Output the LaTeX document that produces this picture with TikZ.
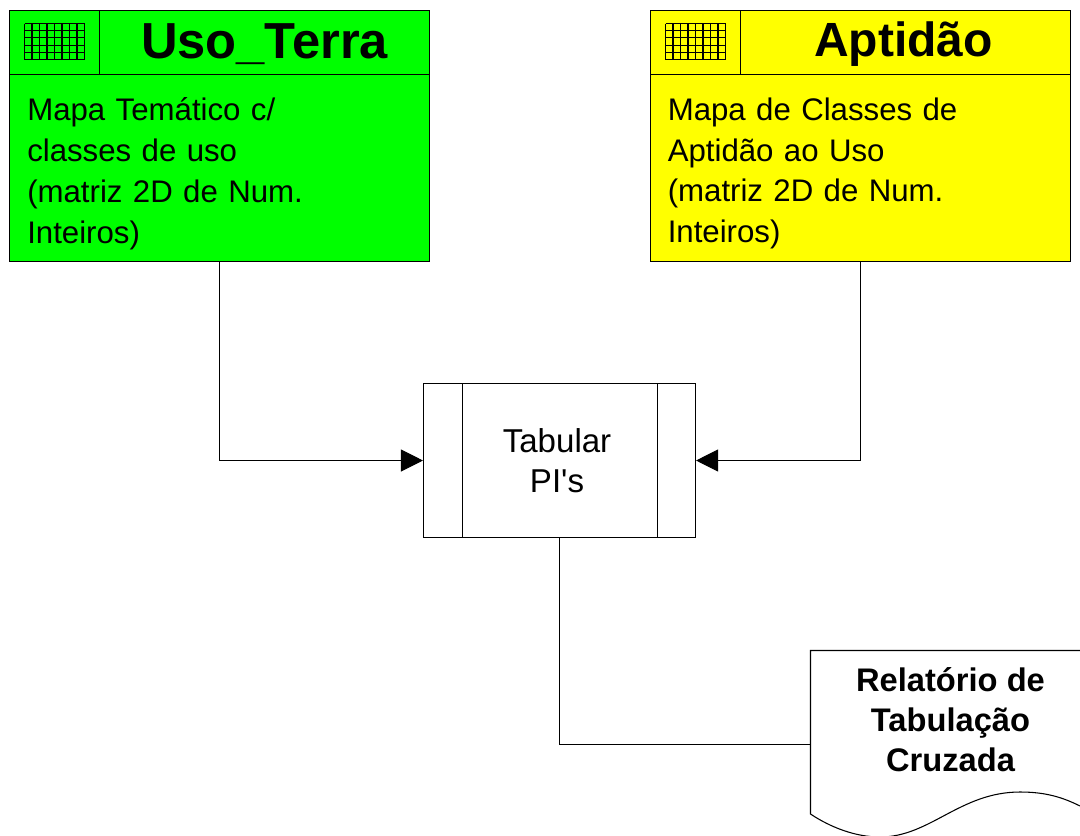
\documentclass[tikz,border=0pt]{standalone}
\usepackage{fontspec}
\setmainfont{Liberation Sans}
\newfontfamily\rawsans{Liberation Sans}
\usetikzlibrary{arrows.meta}
\definecolor{pureyellow}{RGB}{255,255,0}
\definecolor{puregreen}{RGB}{0,255,0}
\tikzset{
  px/.style={x=0.75pt,y=-0.75pt},
  ln/.style={draw=black,line width=0.8pt},
  conn/.style={line width=0.8pt,-{Triangle[length=16.5pt,width=16.5pt,black]}},
  plain/.style={line width=0.8pt},
  title/.style={font=\fontsize{#1}{#1}\selectfont\bfseries,inner sep=0pt},
  body/.style={font=\fontsize{23.4}{30.6}\selectfont,align=left,anchor=north west,inner sep=0pt,text width=330pt},
  ptext/.style={font=\fontsize{24.8}{30}\selectfont\rawsans,align=center,inner sep=0pt},
  dtext/.style={font=\fontsize{24.5}{30}\selectfont\bfseries,align=center,inner sep=0pt},
  gridl/.style={line width=0.8pt}
}
\newcommand{\gridicon}[2]{%
  \foreach \i in {0,...,8} {\draw[gridl] ({#1+\i*7.5},#2) -- ({#1+\i*7.5},{#2+36});}
  \foreach \j in {0,...,5} {\draw[gridl] (#1,{#2+\j*7.2}) -- ({#1+60},{#2+\j*7.2});}
}
\begin{document}
\begin{tikzpicture}[px]
\useasboundingbox (0,0) rectangle (1080,835);
\clip (0,0) rectangle (1080,835);
% Uso_Terra
\path[fill=puregreen,ln] (9.5,10.5) rectangle (429.5,261.5);
\draw[ln] (9.5,74.5) -- (429.5,74.5) (99.5,10.5) -- (99.5,74.5);
\gridicon{24.5}{23.5}
\node[title=38] (uso) at (264.5,44) {Uso\_Terra};
\node[body] (usotxt) at (27,97.5) {Mapa Temático c/\\classes de uso\\(matriz 2D de Num.\\Inteiros)};
\coordinate (usob) at (219.5,261.5);
% Aptidao
\path[fill=pureyellow,ln] (650.5,10.5) rectangle (1070.5,261.5);
\draw[ln] (650.5,74.5) -- (1070.5,74.5) (740.5,10.5) -- (740.5,74.5);
\gridicon{665.5}{23.5}
\node[title=36] (apt) at (903.5,44) {Aptidão};
\node[body] (apttxt) at (667.5,97.5) {Mapa de Classes de\\Aptidão ao Uso\\(matriz 2D de Num.\\Inteiros)};
\coordinate (aptb) at (860.5,261.5);
% Process
\node[ln,rectangle,fill=white,inner sep=0pt,minimum width=204pt,minimum height=115.5pt] (proc) at (559.5,460.5) {};
\draw[ln] (462.5,383.5) -- (462.5,537.5) (657.5,383.5) -- (657.5,537.5);
\node[ptext] (proctxt) at (557,460.5) {Tabular\\PI's};
% Document
\draw[ln] (1080,650.5) -- (810.5,650.5) -- (810.5,814)
  .. controls (830,827) and (855,837) .. (880,837)
  .. controls (930,837) and (960,792) .. (1020,792)
  .. controls (1045,792) and (1062,797) .. (1080,806);
\coordinate (doc) at (810.5,744.5);
\node[dtext] (doctxt) at (950.5,720) {Relatório de\\Tabulação\\Cruzada};
% Connectors
\draw[conn] (usob) |- (proc.west);
\draw[conn] (aptb) |- (proc.east);
\draw[plain] (proc.south) |- (doc);
\end{tikzpicture}
\end{document}
